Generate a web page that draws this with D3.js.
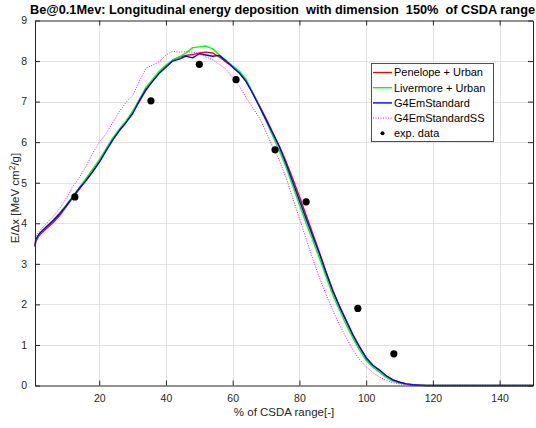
<!DOCTYPE html>
<html><head><meta charset="utf-8">
<script src="https://cdn.jsdelivr.net/npm/d3@7"></script>
<style>body{margin:0;background:#fff} svg{display:block;font-family:"Liberation Sans",Arial,sans-serif}</style>
</head><body><svg id="c" width="536" height="428"></svg>
<script>
const xs = [0.75,1,2,4,6,8,10,12,14,16,18,20,22,24,26,28,30,32,34,36,38,40,42,44,46,48,50,52,54,56,58,60,62,64,66,68,70,72,74,76,78,80,82,84,86,88,90,92,94,96,98,100,102,104,106,108,110,112,114,116,118,120,130,140,150];
const penelope = [3.42,3.55,3.7,3.86,4.0,4.18,4.4,4.62,4.84,5.06,5.3,5.52,5.8,6.05,6.3,6.5,6.72,7.0,7.28,7.52,7.72,7.88,8.02,8.1,8.14,8.16,8.2,8.22,8.2,8.1,7.98,7.86,7.72,7.5,7.22,6.9,6.58,6.24,5.9,5.52,5.1,4.66,4.2,3.74,3.28,2.8,2.35,1.96,1.6,1.26,0.96,0.69,0.5,0.37,0.24,0.14,0.08,0.04,0.02,0.01,0,0,0,0,0];
const livermore = [3.45,3.6,3.73,3.9,4.06,4.24,4.44,4.66,4.88,5.1,5.33,5.56,5.83,6.1,6.32,6.52,6.76,7.05,7.35,7.55,7.75,7.9,8.02,8.1,8.2,8.33,8.35,8.37,8.3,8.15,8.02,7.88,7.75,7.55,7.22,6.88,6.52,6.15,5.78,5.38,4.92,4.45,4.0,3.58,3.14,2.68,2.23,1.86,1.5,1.17,0.88,0.62,0.45,0.33,0.2,0.11,0.06,0.03,0.01,0,0,0,0,0,0];
const g4std = [3.45,3.6,3.74,3.9,4.05,4.22,4.42,4.64,4.86,5.05,5.26,5.5,5.78,6.05,6.28,6.48,6.7,7.02,7.3,7.5,7.7,7.85,8.0,8.05,8.12,8.08,8.18,8.15,8.12,8.14,8.0,7.85,7.7,7.5,7.2,6.88,6.55,6.22,5.88,5.47,5.02,4.56,4.11,3.68,3.25,2.78,2.33,1.95,1.6,1.25,0.95,0.68,0.5,0.38,0.24,0.14,0.08,0.04,0.02,0.01,0,0,0,0,0];
const g4ss = [3.5,3.68,3.8,3.98,4.15,4.35,4.6,4.9,5.12,5.4,5.72,6.0,6.2,6.48,6.75,6.98,7.15,7.5,7.82,7.9,7.98,8.15,8.24,8.22,8.23,8.22,8.18,8.1,8.03,7.92,7.8,7.6,7.38,7.1,6.85,6.6,6.25,5.88,5.55,5.12,4.62,4.12,3.62,3.12,2.66,2.24,1.85,1.5,1.18,0.88,0.64,0.46,0.32,0.21,0.13,0.07,0.04,0.02,0.01,0,0,0,0,0,0];
const expX = [12.7,35.5,50,61,72.7,82,97.5,108.3];
const expY = [4.65,7.02,7.92,7.54,5.81,4.53,1.9,0.78];
const xTicks = [20,40,60,80,100,120,140];
const yTicks = [0,1,2,3,4,5,6,7,8,9];
const seriesNames = ["Penelope + Urban","Livermore + Urban","G4EmStandard","G4EmStandardSS","exp. data"];
const seriesColors = ["#ff0000","#00ff00","#0000ff","#ff00ff"];
const titleText = "Be@0.1Mev: Longitudinal energy deposition  with dimension  150%  of CSDA range";

const svg = d3.select("#c");
const L = 35, R = 533, T = 20.5, B = 385.5;
const x = d3.scaleLinear().domain([0.75,150]).range([L,R]);
const y = d3.scaleLinear().domain([0,9]).range([B,T]);
const axisCol = "#262626";

// grid
svg.append("g").selectAll("line").data(xTicks).join("line")
  .attr("x1",d=>Math.round(x(d))+0.5).attr("x2",d=>Math.round(x(d))+0.5).attr("y1",T).attr("y2",B)
  .attr("stroke","#e3e3e3").attr("stroke-width",1);
svg.append("g").selectAll("line").data(yTicks.slice(1,-1)).join("line")
  .attr("y1",d=>Math.round(y(d))+0.5).attr("y2",d=>Math.round(y(d))+0.5).attr("x1",L).attr("x2",R)
  .attr("stroke","#e3e3e3").attr("stroke-width",1);

// series
const series = [penelope, livermore, g4std, g4ss];
const line = d3.line().x((d,i)=>x(xs[i])).y(d=>y(d));
series.forEach((s,k)=>{
  svg.append("path").datum(s).attr("d",line).attr("fill","none")
    .attr("stroke",seriesColors[k]).attr("stroke-width",k===3?1:1.4)
    .attr("stroke-dasharray",k===3?"1,1.5":null).attr("stroke-linejoin","round");
});
svg.append("g").selectAll("circle").data(expX).join("circle")
  .attr("cx",d=>x(d)).attr("cy",(d,i)=>y(expY[i])).attr("r",3.6).attr("fill","#000");

// axes
const fmt = d3.format("d");
svg.append("g").attr("transform",`translate(0,${B})`)
  .call(d3.axisBottom(x).tickValues(xTicks).tickSizeInner(-5).tickSizeOuter(0).tickPadding(9).tickFormat(fmt));
svg.append("g").attr("transform",`translate(0,${T})`)
  .call(d3.axisTop(x).tickValues(xTicks).tickSizeInner(-5).tickSizeOuter(0).tickFormat(""));
svg.append("g").attr("transform",`translate(${L},0)`)
  .call(d3.axisLeft(y).tickValues(yTicks).tickSizeInner(-5).tickSizeOuter(0).tickPadding(8).tickFormat(fmt));
svg.append("g").attr("transform",`translate(${R},0)`)
  .call(d3.axisRight(y).tickValues(yTicks).tickSizeInner(-5).tickSizeOuter(0).tickFormat(""));
svg.selectAll(".domain, .tick line").attr("stroke",axisCol);
svg.selectAll(".tick text").attr("fill",axisCol).style("font-size","10.5px").style("font-family",'"Liberation Sans",Arial,sans-serif');

// title and labels
svg.append("text").attr("x",30).attr("y",13.5).attr("font-weight","bold").attr("font-size",12.75)
  .attr("fill","#000").style("white-space","pre").text(titleText);
svg.append("text").attr("x",(L+R)/2).attr("y",416).attr("text-anchor","middle").attr("font-size",11.5)
  .attr("fill",axisCol).text("% of CSDA range[-]");
const yl = svg.append("text").attr("transform",`translate(19,${(T+B)/2 - 5}) rotate(-90)`)
  .attr("text-anchor","middle").attr("font-size",11.5).attr("fill",axisCol);
yl.append("tspan").text("E/Δx [MeV cm");
yl.append("tspan").attr("dy",-4).attr("font-size",8.5).text("2");
yl.append("tspan").attr("dy",4).text("/g]");

// legend
const lx = 371, ly = 63, lw = 122, lh = 78, rowH = 15.2;
const lg = svg.append("g");
lg.append("rect").attr("x",lx+0.5).attr("y",ly+0.5).attr("width",lw).attr("height",lh)
  .attr("fill","#fff").attr("stroke","#4d4d4d").attr("stroke-width",1);
seriesNames.forEach((n,i)=>{
  const yy = ly + 9.5 + i*rowH;
  if(i<4){
    lg.append("line").attr("x1",lx+2).attr("x2",lx+21).attr("y1",yy).attr("y2",yy)
      .attr("stroke",seriesColors[i]).attr("stroke-width",i===3?1:1.4).attr("stroke-dasharray",i===3?"1,1.5":null);
  } else {
    lg.append("circle").attr("cx",lx+11.5).attr("cy",yy).attr("r",2).attr("fill","#000");
  }
  lg.append("text").attr("x",lx+23).attr("y",yy).attr("dy","0.35em").attr("font-size",11)
    .attr("fill","#000").text(n);
});
</script></body></html>
